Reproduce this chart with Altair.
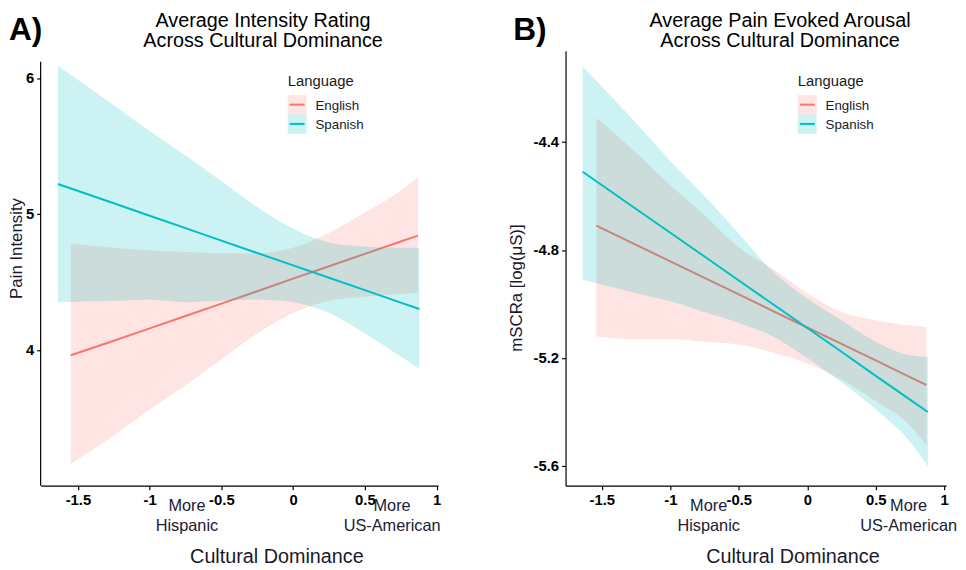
import altair as alt
import pandas as pd

LANGS = ["English", "Spanish"]
COLORS = ["#F8766D", "#00BFC4"]

# ---------- Panel A: Pain intensity ----------
A_X_ENG = [-1.55, -1.25, -1.0, -0.75, -0.5, -0.25, 0.0, 0.25, 0.5, 0.75, 0.87]
A_FIT_ENG = [3.96, 4.067, 4.158, 4.249, 4.340, 4.431, 4.524, 4.615, 4.706, 4.797, 4.84]
A_LO_ENG = [3.16, 3.37, 3.56, 3.74, 3.93, 4.12, 4.27, 4.36, 4.39, 4.41, 4.42]
A_HI_ENG = [4.78, 4.75, 4.73, 4.72, 4.71, 4.71, 4.75, 4.86, 5.01, 5.17, 5.27]

A_X_SPA = [-1.64, -1.25, -1.0, -0.75, -0.5, -0.25, 0.0, 0.25, 0.5, 0.75, 0.88]
A_FIT_SPA = [5.22, 5.078, 4.986, 4.895, 4.803, 4.712, 4.621, 4.530, 4.439, 4.347, 4.30]
A_LO_SPA = [4.35, 4.36, 4.37, 4.35, 4.36, 4.37, 4.35, 4.27, 4.12, 3.95, 3.86]
A_HI_SPA = [6.09, 5.80, 5.61, 5.43, 5.24, 5.05, 4.89, 4.79, 4.76, 4.75, 4.75]

# ---------- Panel B: mSCRa ----------
B_X_ENG = [-1.54, -1.25, -1.0, -0.75, -0.5, -0.25, 0.0, 0.25, 0.5, 0.75, 0.87]
B_FIT_ENG = [-4.71, -4.781, -4.842, -4.903, -4.964, -5.026, -5.087, -5.148, -5.209, -5.271, -5.30]
B_LO_ENG = [-5.12, -5.13, -5.13, -5.14, -5.15, -5.18, -5.22, -5.28, -5.36, -5.45, -5.525]
B_HI_ENG = [-4.31, -4.44, -4.56, -4.67, -4.79, -4.87, -4.96, -5.03, -5.06, -5.08, -5.085]

B_X_SPA = [-1.64, -1.25, -1.0, -0.75, -0.5, -0.25, 0.0, 0.25, 0.5, 0.75, 0.88]
B_FIT_SPA = [-4.51, -4.648, -4.736, -4.824, -4.913, -5.001, -5.089, -5.177, -5.266, -5.354, -5.40]
B_LO_SPA = [-4.91, -4.96, -4.99, -5.03, -5.07, -5.12, -5.20, -5.29, -5.39, -5.51, -5.60]
B_HI_SPA = [-4.12, -4.33, -4.47, -4.60, -4.74, -4.88, -4.98, -5.06, -5.14, -5.19, -5.195]

X_TICKS = [-1.5, -1, -0.5, 0, 0.5, 1]
A_Y_TICKS = [4, 5, 6]
B_Y_TICKS = [-5.6, -5.2, -4.8, -4.4]

TITLE_A = ["Average Intensity Rating", "Across Cultural Dominance"]
TITLE_B = ["Average Pain Evoked Arousal", "Across Cultural Dominance"]
Y_TITLE_A = "Pain Intensity"
Y_TITLE_B = "mSCRa [log(\u03bcS)]"
X_TITLE = "Cultural Dominance"
LEGEND_TITLE = "Language"
ANNOT_TEXT = ["More\nHispanic", "More\nUS-American"]
ANNOT_X_A = [-0.74, 0.69]
ANNOT_X_B = [-0.72, 0.74]

FONT = "Liberation Sans"
color_scale = alt.Scale(domain=LANGS, range=COLORS)


def one(text):
    return pd.DataFrame({"t": [text]})


def panel(series, x_dom, y_dom, width, height, y_ticks, y_axis_top,
          label, label_x, title_lines, title_x, y_title, y_title_x, y_title_y,
          legend_x, annot_x, x_title_x):
    xs = alt.Scale(domain=x_dom, nice=False, zero=False)
    ys = alt.Scale(domain=y_dom, nice=False, zero=False)
    x_axis = alt.Axis(values=X_TICKS, labelExpr="'' + datum.value", title=None)
    y_axis = alt.Axis(values=y_ticks, labelExpr="'' + datum.value", title=None,
                      domain=y_axis_top is None)
    col = alt.Color("Language:N", scale=color_scale, legend=None)
    layers = []
    for lang, (xv, fit, lo, hi) in zip(LANGS, series):
        df = pd.DataFrame({"Language": lang, "x": xv, "fit": fit, "lo": lo, "hi": hi})
        base = alt.Chart(df)
        layers.append(base.mark_area(opacity=0.2, interpolate="monotone").encode(
            x=alt.X("x:Q", scale=xs, axis=x_axis),
            y=alt.Y("lo:Q", scale=ys, axis=y_axis),
            y2="hi:Q", color=col))
        layers.append(base.mark_line(strokeWidth=2).encode(
            x=alt.X("x:Q", scale=xs, axis=x_axis),
            y=alt.Y("fit:Q", scale=ys, axis=y_axis),
            color=col))
    if y_axis_top is not None:
        layers.append(alt.Chart(one("axis")).mark_rule(color="black", strokeWidth=1.2).encode(
            x=alt.value(0), y=alt.datum(y_axis_top), y2=alt.datum(y_dom[0])))
    # panel label
    layers.append(alt.Chart(one(label)).mark_text(
        font=FONT, fontSize=32, fontWeight="bold", align="left", baseline="top", color="black"
    ).encode(x=alt.value(label_x), y=alt.value(-36), text="t:N"))
    # title
    layers.append(alt.Chart(one("\n".join(title_lines))).mark_text(
        font=FONT, fontSize=20, align="center", baseline="top", lineBreak="\n",
        lineHeight=20, color="black"
    ).encode(x=alt.value(title_x), y=alt.value(-40), text="t:N"))
    # y title
    layers.append(alt.Chart(one(y_title)).mark_text(
        font=FONT, fontSize=17, align="center", baseline="middle", angle=270, color="#1a1a2a"
    ).encode(x=alt.value(y_title_x), y=alt.value(y_title_y), text="t:N"))
    # x title
    layers.append(alt.Chart(one(X_TITLE)).mark_text(
        font=FONT, fontSize=20, align="center", baseline="alphabetic", color="#1a1a2a"
    ).encode(x=alt.value(x_title_x), y=alt.value(height + 78), text="t:N"))
    # annotations below axis
    ann = pd.DataFrame({"x": annot_x, "t": ANNOT_TEXT})
    layers.append(alt.Chart(ann).mark_text(
        font=FONT, fontSize=16.5, align="center", baseline="top", lineBreak="\n",
        lineHeight=20, color="#202035"
    ).encode(x=alt.X("x:Q", scale=xs, axis=x_axis), y=alt.value(height + 13), text="t:N"))
    # legend
    layers.append(alt.Chart(one(LEGEND_TITLE)).mark_text(
        font=FONT, fontSize=15, align="left", baseline="alphabetic", color="#1a1a1a"
    ).encode(x=alt.value(legend_x), y=alt.value(36), text="t:N"))
    for i, lang in enumerate(LANGS):
        ky = 45 + i * 19.5
        d = pd.DataFrame({"Language": [lang]})
        layers.append(alt.Chart(d).mark_rect(opacity=0.2).encode(
            x=alt.value(legend_x), x2=alt.value(legend_x + 19),
            y=alt.value(ky), y2=alt.value(ky + 19.5), color=col))
        layers.append(alt.Chart(d).mark_rule(strokeWidth=2).encode(
            x=alt.value(legend_x + 2), x2=alt.value(legend_x + 17),
            y=alt.value(ky + 9.5), color=col))
        layers.append(alt.Chart(d).mark_text(
            font=FONT, fontSize=13.5, align="left", baseline="middle", color="#1a1a2a"
        ).encode(x=alt.value(legend_x + 28), y=alt.value(ky + 10.5), text="Language:N"))
    return alt.layer(*layers).properties(width=width, height=height)


panel_a = panel(
    [(A_X_ENG, A_FIT_ENG, A_LO_ENG, A_HI_ENG), (A_X_SPA, A_FIT_SPA, A_LO_SPA, A_HI_SPA)],
    [-1.76, 1.01], [3.0, 6.2], 402, 440, A_Y_TICKS, 6.12,
    "A)", -32, TITLE_A, 225, Y_TITLE_A, -23.5, 200, 250, ANNOT_X_A, 239)

panel_b = panel(
    [(B_X_ENG, B_FIT_ENG, B_LO_ENG, B_HI_ENG), (B_X_SPA, B_FIT_SPA, B_LO_SPA, B_HI_SPA)],
    [-1.765, 1.014], [-5.673, -4.062], 385, 440, B_Y_TICKS, None,
    "B)", -53, TITLE_B, 217, Y_TITLE_B, -49.5, 240, 235, ANNOT_X_B, 230)

chart = alt.hconcat(panel_a, panel_b, spacing=67).properties(
    padding={"left": 0, "top": 0, "right": 0, "bottom": 0}
).configure_view(strokeWidth=0).configure_axis(
    domainColor="black", domainWidth=1.2, tickColor="black", tickWidth=1.2, tickSize=4,
    labelColor="black", labelFont=FONT, labelFontSize=15, labelFontWeight="bold",
    labelPadding=3, grid=False
)

chart.save("out.html", embed_options={"renderer": "svg", "actions": False})
